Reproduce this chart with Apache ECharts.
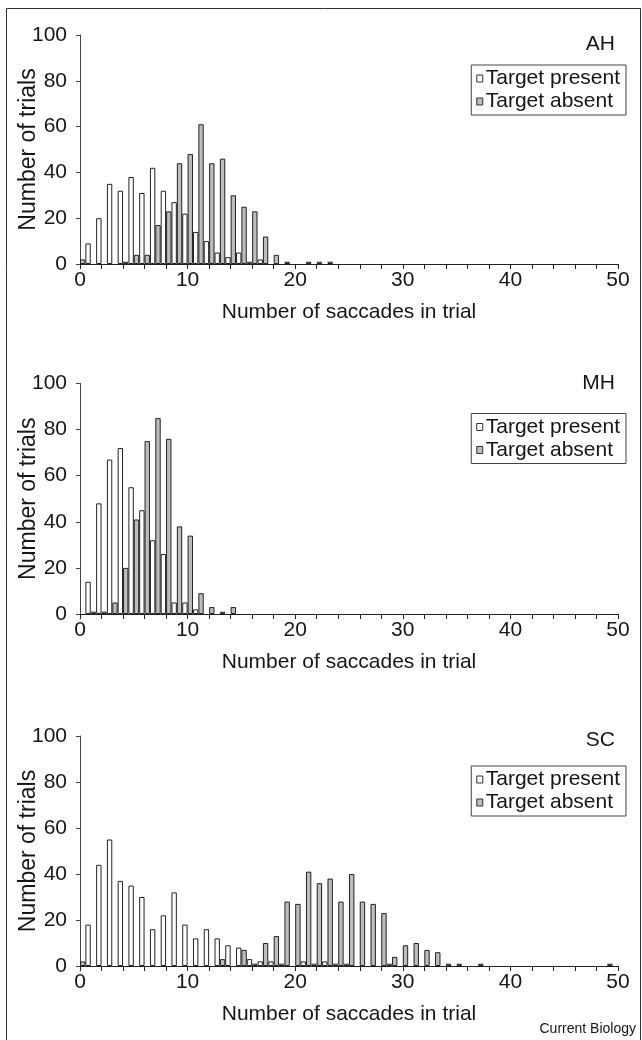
<!DOCTYPE html>
<html>
<head>
<meta charset="utf-8">
<script src="https://cdn.jsdelivr.net/npm/echarts@6/dist/echarts.min.js"></script>
<style>
  html, body { margin: 0; padding: 0; background: #fff; }
  #chart { width: 642px; height: 1040px; }
</style>
</head>
<body>
<div id="chart"></div>
<script>
// Number of saccades in trial: categories 0..50
const saccades = Array.from({length: 51}, (_, i) => String(i));
const xTickLabels = ['0', '10', '20', '30', '40', '50'];
const yTicks = [0, 20, 40, 60, 80, 100];
const panelNames = ['AH', 'MH', 'SC'];
const seriesNames = ['Target present', 'Target absent'];

// Panel AH (index = number of saccades, 0..50)
const ahPresent = [0, 9, 20, 35, 32, 38, 31, 42, 32, 27, 22, 14, 10, 5, 3, 5, 1, 2, 0, 0, 0, 0, 0, 0, 0, 0, 0, 0, 0, 0, 0, 0, 0, 0, 0, 0, 0, 0, 0, 0, 0, 0, 0, 0, 0, 0, 0, 0, 0, 0, 0];
const ahAbsent  = [2, 0, 0, 0, 1, 4, 4, 17, 23, 44, 48, 61, 44, 46, 30, 25, 23, 12, 4, 1, 0, 1, 1, 1, 0, 0, 0, 0, 0, 0, 0, 0, 0, 0, 0, 0, 0, 0, 0, 0, 0, 0, 0, 0, 0, 0, 0, 0, 0, 0, 0];

// Panel MH
const mhPresent = [0, 14, 48, 67, 72, 55, 45, 32, 26, 5, 5, 2, 0, 0, 0, 0, 0, 0, 0, 0, 0, 0, 0, 0, 0, 0, 0, 0, 0, 0, 0, 0, 0, 0, 0, 0, 0, 0, 0, 0, 0, 0, 0, 0, 0, 0, 0, 0, 0, 0, 0];
const mhAbsent  = [0, 1, 1, 5, 20, 41, 75, 85, 76, 38, 34, 9, 3, 1, 3, 0, 0, 0, 0, 0, 0, 0, 0, 0, 0, 0, 0, 0, 0, 0, 0, 0, 0, 0, 0, 0, 0, 0, 0, 0, 0, 0, 0, 0, 0, 0, 0, 0, 0, 0, 0];

// Panel SC
const scPresent = [0, 18, 44, 55, 37, 35, 30, 16, 22, 32, 18, 12, 16, 12, 9, 8, 3, 2, 2, 1, 0, 2, 1, 2, 1, 1, 0, 0, 0, 1, 0, 0, 0, 0, 0, 0, 0, 0, 0, 0, 0, 0, 0, 0, 0, 0, 0, 0, 0, 0, 0];
const scAbsent  = [2, 0, 0, 0, 0, 0, 0, 0, 0, 0, 0, 0, 0, 3, 0, 7, 1, 10, 13, 28, 27, 41, 36, 38, 28, 40, 28, 27, 23, 4, 9, 10, 7, 6, 1, 1, 0, 1, 0, 0, 0, 0, 0, 0, 0, 0, 0, 0, 0, 1, 0];

const panels = [
  { name: panelNames[0], present: ahPresent, absent: ahAbsent },
  { name: panelNames[1], present: mhPresent, absent: mhAbsent },
  { name: panelNames[2], present: scPresent, absent: scAbsent }
];

const FONT = 'Liberation Sans, Arial, Helvetica, sans-serif';
const TXT = '#161616';
const FS = 21;
const grids = [
  { left: 80, top: 35, width: 538, height: 229 },
  { left: 80, top: 383.5, width: 538, height: 230.5 },
  { left: 80, top: 736, width: 538, height: 230 }
];
const titleTops = [34, 373, 730];

const option = {
  animation: false,
  backgroundColor: '#ffffff',
  textStyle: { fontFamily: FONT, color: TXT },
  grid: grids,
  title: panels.map((p, i) => ({
    text: p.name,
    right: 27,
    top: titleTops[i],
    padding: 0,
    textStyle: { fontFamily: FONT, fontSize: FS, fontWeight: 'normal', color: TXT }
  })),
  legend: panels.map((p, i) => ({
    data: seriesNames,
    orient: 'vertical',
    right: 16,
    top: grids[i].top + 30,
    padding: [3, 6, 3, 5],
    itemGap: 2,
    itemWidth: 6,
    itemHeight: 7,
    icon: 'rect',
    borderColor: '#444',
    borderWidth: 1,
    selectedMode: false,
    itemStyle: { borderColor: '#333', borderWidth: 1 },
    textStyle: { fontFamily: FONT, fontSize: FS, color: TXT, padding: [0, 0, 0, -2] }
  })),
  xAxis: panels.map((p, i) => ({
    type: 'category',
    gridIndex: i,
    data: saccades,
    boundaryGap: false,
    name: 'Number of saccades in trial',
    nameLocation: 'middle',
    nameGap: 38,
    nameMoveOverlap: false,
    nameTextStyle: { fontFamily: FONT, fontSize: FS, color: TXT },
    axisLine: { show: true, lineStyle: { color: '#222', width: 1 } },
    axisTick: { show: true, interval: 1, length: 5, lineStyle: { color: '#222' } },
    axisLabel: {
      interval: 0,
      margin: 6,
      fontFamily: FONT, fontSize: FS, color: TXT,
      formatter: v => (xTickLabels.indexOf(v) >= 0 ? v : '')
    },
    splitLine: { show: false }
  })),
  yAxis: panels.map((p, i) => ({
    type: 'value',
    gridIndex: i,
    min: yTicks[0],
    max: yTicks[yTicks.length - 1],
    interval: 20,
    name: 'Number of trials',
    nameLocation: 'middle',
    nameGap: 40,
    nameMoveOverlap: false,
    nameTextStyle: { fontFamily: FONT, fontSize: 23, color: TXT },
    axisLine: { show: true, lineStyle: { color: '#444', width: 1 } },
    axisTick: { show: true, length: 4, lineStyle: { color: '#444' } },
    axisLabel: { margin: 13, fontFamily: FONT, fontSize: FS, color: TXT },
    splitLine: { show: false }
  })),
  series: panels.flatMap((p, i) => [
    {
      name: seriesNames[0],
      type: 'bar',
      xAxisIndex: i, yAxisIndex: i,
      barWidth: '50%',
      barGap: '0%',
      data: p.present.map(v => (v === 0 ? null : v)),
      itemStyle: { color: '#ffffff', borderColor: '#222', borderWidth: 1 }
    },
    {
      name: seriesNames[1],
      type: 'bar',
      xAxisIndex: i, yAxisIndex: i,
      barWidth: '50%',
      barGap: '0%',
      data: p.absent.map(v => (v === 0 ? null : v)),
      itemStyle: { color: '#bdbdbd', borderColor: '#222', borderWidth: 1 }
    }
  ]),
  graphic: [
    {
      type: 'rect',
      shape: { x: 6.5, y: 8.5, width: 634, height: 1060 },
      style: { fill: 'none', stroke: '#333', lineWidth: 1 },
      silent: true
    },
    {
      type: 'text',
      right: 6,
      top: 1022,
      style: { text: 'Current Biology', fontFamily: FONT, fontSize: 14, fill: TXT }
    }
  ]
};

const chart = echarts.init(document.getElementById('chart'), null, { renderer: 'canvas' });
chart.setOption(option);
</script>
</body>
</html>
